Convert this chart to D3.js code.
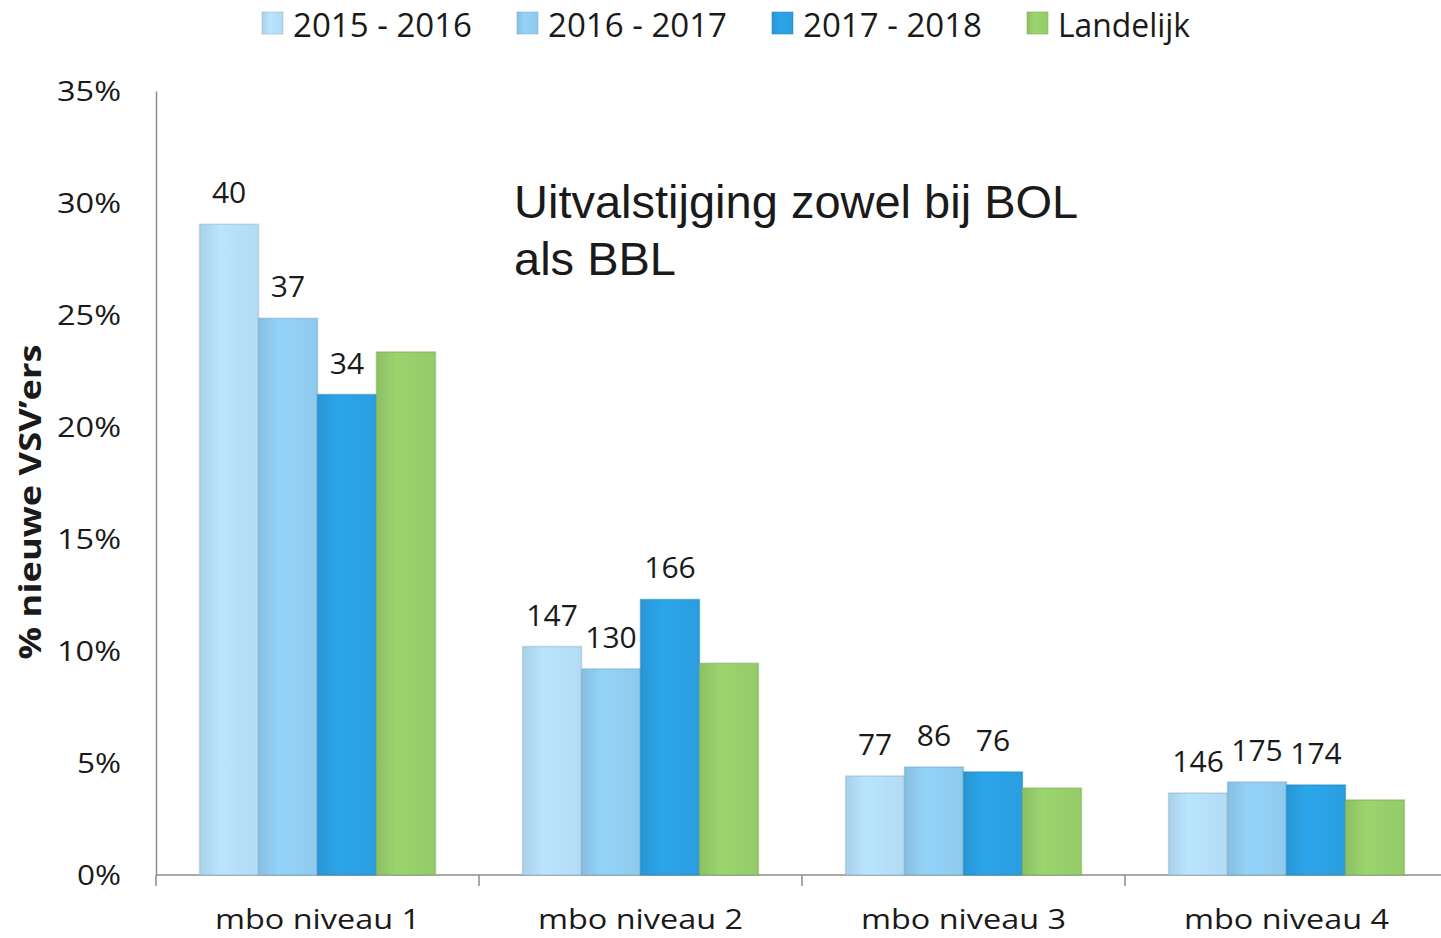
<!DOCTYPE html>
<html lang="nl">
  <head>
    <meta charset="UTF-8">
    <title>Nieuwe VSV'ers per mbo niveau</title>
    <script src="https://cdn.jsdelivr.net/npm/d3@7"></script>
    <style>
      body { margin: 0; background: #fff; }
      text { fill: #1a1a1a; font-family: "Open Sans", sans-serif; }
      .axis line, .axis path { stroke: #8c8c8c; stroke-width: 1.5; }
    </style>
  </head>
  <body>
    <svg id="chart"></svg>

    <script>
      // categories, series and values (percentages)
      var categories = ["mbo niveau 1", "mbo niveau 2", "mbo niveau 3", "mbo niveau 4"];
      var series = ["2015 - 2016", "2016 - 2017", "2017 - 2018", "Landelijk"];
      var colors = ["#b2dbf4", "#8ecaee", "#2a9ee0", "#95cb69"];

      var v2015 = [29.05, 10.2, 4.42, 3.66];
      var v2016 = [24.85, 9.2, 4.82, 4.15];
      var v2017 = [21.45, 12.3, 4.6, 4.02];
      var vLandelijk = [23.35, 9.45, 3.88, 3.35];

      // counts shown above the bars
      var n2015 = [40, 147, 77, 146];
      var n2016 = [37, 130, 86, 175];
      var n2017 = [34, 166, 76, 174];

      var yTicks = [0, 5, 10, 15, 20, 25, 30, 35];

      var values = [v2015, v2016, v2017, vLandelijk];
      var counts = [n2015, n2016, n2017, null];

      var W = 1441, H = 938;
      var svg = d3.select("#chart").attr("width", W).attr("height", H);

      var x0 = d3.scaleBand().domain(categories).range([156, 1448])
          .paddingInner(0.27).paddingOuter(0.135);
      var x1 = d3.scaleBand().domain(series).range([0, x0.bandwidth()]);
      var y = d3.scaleLinear().domain([0, 35]).range([875, 91]);

      // soft horizontal gradient per series
      var defs = svg.append("defs");
      series.forEach(function(s, i) {
        var g = defs.append("linearGradient").attr("id", "g" + i)
            .attr("x1", 0).attr("x2", 1).attr("y1", 0).attr("y2", 0);
        var c = d3.color(colors[i]);
        g.append("stop").attr("offset", 0).attr("stop-color", c.darker(0.15));
        g.append("stop").attr("offset", 0.35).attr("stop-color", c.brighter(0.12));
        g.append("stop").attr("offset", 1).attr("stop-color", c);
      });

      // axes
      var xAxis = svg.append("g").attr("class", "axis")
          .attr("transform", "translate(0,875)")
          .call(d3.axisBottom(x0).tickSize(0).tickFormat(""));
      xAxis.select(".domain").attr("d", "M156,0H1441");
      xAxis.selectAll(".tick").remove();
      var bounds = categories.map(function(c) { return x0(c) - x0.step() * x0.paddingInner() / 2; });
      bounds.push(1448);
      xAxis.selectAll(".sep").data(bounds).enter().append("line")
          .attr("x1", function(d) { return d; }).attr("x2", function(d) { return d; })
          .attr("y1", 0).attr("y2", 11);

      var yAxis = svg.append("g").attr("class", "axis")
          .attr("transform", "translate(156,0)")
          .call(d3.axisLeft(y).tickValues(yTicks).tickSize(0).tickFormat(function(d) { return d + "%"; }));
      yAxis.selectAll(".tick text")
          .attr("x", -35)
          .attr("dy", "0.35em")
          .style("font-size", "28px")
          .attr("textLength", function(d) { return d < 10 ? 44 : 64; })
          .attr("lengthAdjust", "spacingAndGlyphs");

      // category labels
      svg.selectAll(".cat").data(categories).enter().append("text")
          .attr("x", function(d) { return x0(d) + x0.bandwidth() / 2; })
          .attr("y", 929)
          .attr("text-anchor", "middle")
          .style("font-size", "27px")
          .attr("textLength", 205)
          .attr("lengthAdjust", "spacingAndGlyphs")
          .text(function(d) { return d; });

      // bars
      var groups = svg.selectAll(".grp").data(categories).enter().append("g")
          .attr("transform", function(d) { return "translate(" + x0(d) + ",0)"; });

      groups.selectAll("rect").data(function(c, ci) {
        return series.map(function(s, si) { return { s: s, si: si, v: values[si][ci] }; });
      }).enter().append("rect")
          .attr("x", function(d) { return x1(d.s); })
          .attr("y", function(d) { return y(d.v); })
          .attr("width", x1.bandwidth())
          .attr("height", function(d) { return y(0) - y(d.v); })
          .attr("fill", function(d) { return "url(#g" + d.si + ")"; })
          .attr("stroke", function(d) { return d3.color(colors[d.si]).darker(0.5); })
          .attr("stroke-opacity", 0.5)
          .attr("stroke-width", 1.5);

      groups.selectAll(".lbl").data(function(c, ci) {
        return series.map(function(s, si) { return { s: s, v: values[si][ci], n: counts[si] ? counts[si][ci] : null }; })
            .filter(function(d) { return d.n !== null; });
      }).enter().append("text")
          .attr("x", function(d) { return x1(d.s) + x1.bandwidth() / 2; })
          .attr("y", function(d) { return y(d.v) - 21; })
          .attr("text-anchor", "middle")
          .style("font-size", "30px")
          .text(function(d) { return d.n; });

      // y axis title
      svg.append("text")
          .attr("transform", "translate(41,502) rotate(-90)")
          .attr("text-anchor", "middle")
          .style("font-size", "31px")
          .style("font-weight", "bold")
          .attr("textLength", 315)
          .attr("lengthAdjust", "spacingAndGlyphs")
          .text("% nieuwe VSV\u2019ers");

      // annotation
      var note = svg.append("text")
          .attr("x", 514).attr("y", 218)
          .style("font-family", "'Liberation Sans', Arial, sans-serif")
          .style("font-size", "47px");
      note.append("tspan").attr("x", 514).text("Uitvalstijging zowel bij BOL");
      note.append("tspan").attr("x", 514).attr("dy", 57).text("als BBL");

      // legend
      var legend = svg.selectAll(".leg").data(series).enter().append("g")
          .attr("transform", function(d, i) { return "translate(" + (262 + i * 255) + ",12)"; });
      legend.append("rect")
          .attr("width", 21).attr("height", 22)
          .attr("fill", function(d, i) { return "url(#g" + i + ")"; })
          .attr("stroke", function(d, i) { return d3.color(colors[i]).darker(0.6); })
          .attr("stroke-opacity", 0.5);
      legend.append("text")
          .attr("x", 31).attr("y", 25)
          .style("font-size", "33px")
          .attr("textLength", function(d, i) { return i < 3 ? 179 : 132; })
          .attr("lengthAdjust", "spacingAndGlyphs")
          .text(function(d) { return d; });
    </script>
  </body>
</html>
